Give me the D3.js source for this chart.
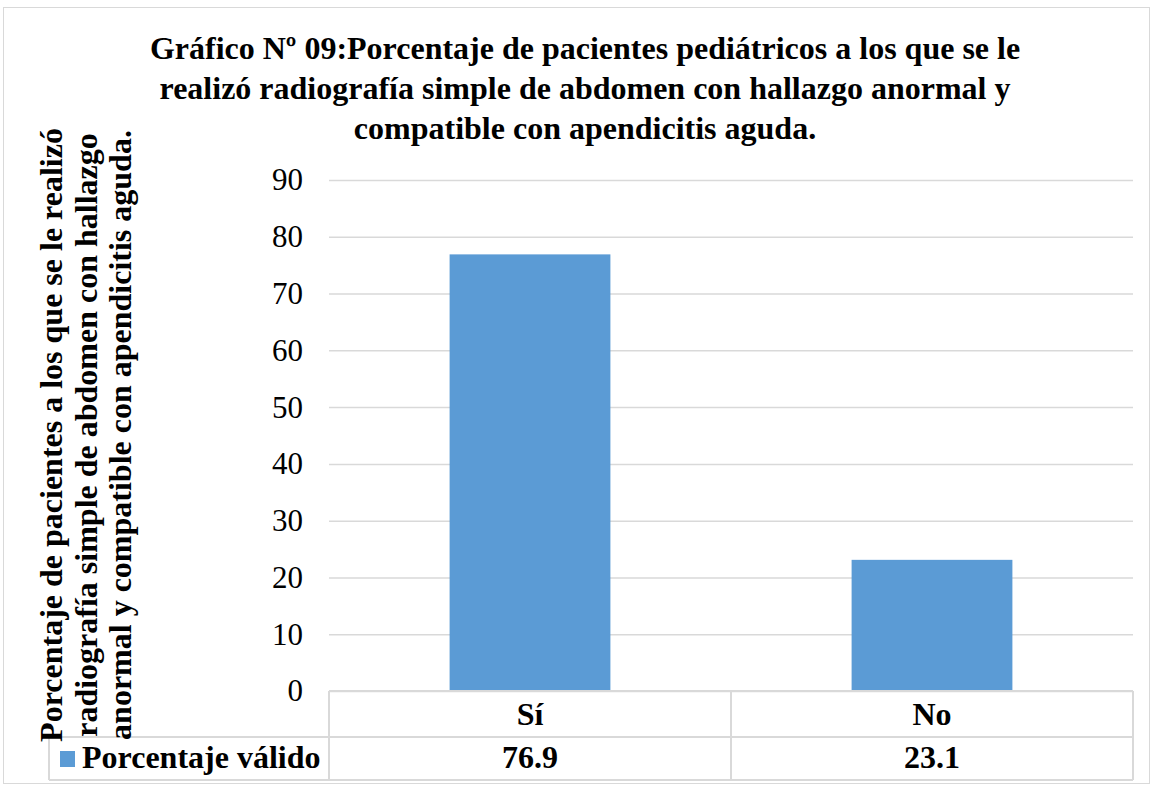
<!DOCTYPE html>
<html>
<head>
<meta charset="utf-8">
<script src="https://cdn.jsdelivr.net/npm/d3@7"></script>
<style>
  body { margin: 0; background: #fff; }
  text { font-family: "Liberation Serif", "Times New Roman", Tinos, "DejaVu Serif", serif; fill: #000; }
</style>
</head>
<body>
<div id="chart"></div>
<script>
// chart data
var categories = ["Sí", "No"];
var values = [76.9, 23.1];
var seriesName = "Porcentaje válido";
var yTicks = [0, 10, 20, 30, 40, 50, 60, 70, 80, 90];
var titleLines = [
  "Gráfico Nº 09:Porcentaje de pacientes pediátricos a los que se le",
  "realizó radiografía simple de abdomen con hallazgo anormal y",
  "compatible con apendicitis aguda."
];
var yTitleLines = [
  "Porcentaje de pacientes a los que se le realizó",
  "radiografía simple de abdomen con hallazgo",
  "anormal y compatible con apendicitis aguda."
];

var svgWidth = 1151;
var svgHeight = 791;

var plot = { left: 329, right: 1133, top: 180, bottom: 691 };
var rowH1 = 46, rowH2 = 43;

var svg = d3.select("#chart")
  .append("svg")
  .attr("width", svgWidth)
  .attr("height", svgHeight);

// outer frame
svg.append("rect")
  .attr("x", 3.5).attr("y", 7.5)
  .attr("width", 1146).attr("height", 776)
  .attr("fill", "#fff")
  .attr("stroke", "#d9d9d9");

// title
svg.append("g").selectAll("text")
  .data(titleLines)
  .enter()
  .append("text")
  .attr("x", 585)
  .attr("y", (d, i) => 59 + i * 40)
  .attr("text-anchor", "middle")
  .style("font-size", "32px")
  .style("font-weight", "bold")
  .text(d => d);

// scales
var x = d3.scaleBand()
  .domain(categories)
  .range([plot.left, plot.right])
  .paddingInner(0.6)
  .paddingOuter(0.3);

var y = d3.scaleLinear()
  .domain([0, 90])
  .range([plot.bottom, plot.top]);

// gridlines
svg.append("g").selectAll("line")
  .data(yTicks)
  .enter()
  .append("line")
  .attr("x1", plot.left)
  .attr("x2", plot.right)
  .attr("y1", d => y(d) + 0.5)
  .attr("y2", d => y(d) + 0.5)
  .attr("stroke", "#d9d9d9")
  .attr("stroke-width", 1.5);

// y axis labels
var yAxis = d3.axisLeft(y).tickValues(yTicks).tickSize(0).tickPadding(0);
var yg = svg.append("g")
  .attr("transform", `translate(303,0)`)
  .call(yAxis);
yg.select(".domain").remove();
yg.selectAll("text")
  .style("font-family", "'Liberation Serif', 'Times New Roman', Tinos, 'DejaVu Serif', serif")
  .style("font-size", "31px")
  .attr("dy", "0.32em");

// bars
svg.append("g").selectAll("rect")
  .data(values)
  .enter()
  .append("rect")
  .attr("x", (d, i) => x(categories[i]))
  .attr("width", x.bandwidth())
  .attr("y", d => y(d))
  .attr("height", d => y(0) - y(d))
  .attr("fill", "#5b9bd5");

// data table
var table = svg.append("g");
var tStroke = "#d9d9d9";
var tTop = plot.bottom, tMid = plot.bottom + rowH1, tBot = tMid + rowH2;
var legendLeft = 49;

table.append("line").attr("x1", plot.left).attr("x2", plot.right).attr("y1", tTop).attr("y2", tTop)
  .attr("stroke", tStroke).attr("stroke-width", 2);
table.append("line").attr("x1", legendLeft).attr("x2", plot.right).attr("y1", tMid).attr("y2", tMid)
  .attr("stroke", tStroke).attr("stroke-width", 2);
table.append("line").attr("x1", legendLeft).attr("x2", plot.right).attr("y1", tBot).attr("y2", tBot)
  .attr("stroke", tStroke).attr("stroke-width", 2);
table.append("line").attr("x1", legendLeft).attr("x2", legendLeft).attr("y1", tMid).attr("y2", tBot)
  .attr("stroke", tStroke).attr("stroke-width", 2);

var colEdges = [plot.left, plot.left + (plot.right - plot.left) / 2, plot.right];
table.selectAll(".vline")
  .data(colEdges)
  .enter()
  .append("line")
  .attr("class", "vline")
  .attr("x1", d => d).attr("x2", d => d)
  .attr("y1", tTop).attr("y2", tBot)
  .attr("stroke", tStroke).attr("stroke-width", 2);

table.selectAll(".cat")
  .data(categories)
  .enter()
  .append("text")
  .attr("class", "cat")
  .attr("x", d => x(d) + x.bandwidth() / 2)
  .attr("y", tTop + 34)
  .attr("text-anchor", "middle")
  .style("font-size", "32px")
  .style("font-weight", "bold")
  .text(d => d);

table.selectAll(".val")
  .data(values)
  .enter()
  .append("text")
  .attr("class", "val")
  .attr("x", (d, i) => x(categories[i]) + x.bandwidth() / 2)
  .attr("y", tMid + 31)
  .attr("text-anchor", "middle")
  .style("font-size", "32px")
  .style("font-weight", "bold")
  .text(d => d.toFixed(1));

// legend key
table.append("rect")
  .attr("x", 60).attr("y", tMid + 14)
  .attr("width", 15).attr("height", 16)
  .attr("fill", "#5b9bd5");
table.append("text")
  .attr("x", 82).attr("y", tMid + 31)
  .style("font-size", "32px")
  .style("font-weight", "bold")
  .text(seriesName);

// y axis title
svg.append("g").selectAll("text")
  .data(yTitleLines)
  .enter()
  .append("text")
  .attr("transform", (d, i) => `translate(${62 + i * 34.5}, 435) rotate(-90)`)
  .attr("text-anchor", "middle")
  .style("font-size", "32px")
  .style("font-weight", "bold")
  .text(d => d);
</script>
</body>
</html>
